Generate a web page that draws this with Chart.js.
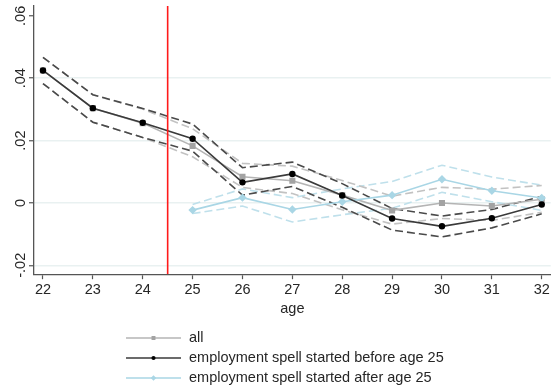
<!DOCTYPE html>
<html><head><meta charset="utf-8">
<script src="https://cdn.jsdelivr.net/npm/chart.js@4/dist/chart.umd.min.js"></script>
<style>html,body{margin:0;padding:0;background:#fff}</style>
</head><body>
<canvas id="c" width="555" height="386" style="width:555px;height:386px;display:block"></canvas>
<script>
// ---- data ----
const ages = [22, 23, 24, 25, 26, 27, 28, 29, 30, 31, 32];
const afterAges = [25, 26, 27, 28, 29, 30, 31, 32];
const yTickValues = [-0.02, 0, 0.02, 0.04, 0.06];
const cutoffAge = 24.5;

const allEst = [0.0425, 0.0304, 0.0256, 0.0183, 0.0084, 0.0071, 0.0025, -0.0024, 0.0000, -0.0010, 0.0012];
const allLo  = [0.0383, 0.0259, 0.0210, 0.0148, 0.0050, 0.0030, -0.0022, -0.0068, -0.0050, -0.0056, -0.0030];
const allHi  = [0.0467, 0.0347, 0.0301, 0.0238, 0.0127, 0.0118, 0.0072, 0.0022, 0.0050, 0.0044, 0.0056];

const beforeEst = [0.0425, 0.0304, 0.0257, 0.0206, 0.0066, 0.0093, 0.0024, -0.0050, -0.0075, -0.0049, -0.0005];
const beforeLo  = [0.0383, 0.0259, 0.0210, 0.0166, 0.0025, 0.0053, -0.0014, -0.0087, -0.0109, -0.0080, -0.0035];
const beforeHi  = [0.0467, 0.0347, 0.0303, 0.0253, 0.0113, 0.0131, 0.0062, -0.0018, -0.0042, -0.0021, 0.0021];

const afterEst = [-0.0023, 0.0017, -0.0021, 0.0004, 0.0025, 0.0076, 0.0039, 0.0016];
const afterLo  = [-0.0034, -0.0010, -0.0061, -0.0038, -0.0017, 0.0034, 0.0004, -0.0024];
const afterHi  = [-0.0005, 0.0045, 0.0017, 0.0045, 0.0069, 0.0121, 0.0083, 0.0057];

const seriesLabels = ['all', 'employment spell started before age 25', 'employment spell started after age 25'];
const axisTitle = 'age';

// ---- styling ----
const FONT = "'Liberation Sans', Arial, Helvetica, sans-serif";
const TXT = '#262626';
const FS = 14.5;
const Y_MIN = -0.02286, Y_MAX = 0.06317;
const X_MIN = 21.82, X_MAX = 32.18;

const pts = (xs, ys) => xs.map((x, i) => ({ x, y: ys[i] }));

function mainLine(label, xs, ys, lineColor, ptColor, style, radius, legendRow) {
  return {
    label, data: pts(xs, ys), borderColor: lineColor, backgroundColor: ptColor,
    pointBackgroundColor: ptColor, pointBorderColor: ptColor, pointBorderWidth: 0,
    pointStyle: style, pointRadius: radius, borderWidth: 1.6, tension: 0, legendRow
  };
}
function ciLine(label, xs, ys, color) {
  return {
    label, data: pts(xs, ys), borderColor: color, borderWidth: 1.6,
    borderDash: [8, 4], pointRadius: 0, tension: 0
  };
}

const datasets = [
  { label: 'cutoff', data: [{ x: cutoffAge, y: Y_MIN }, { x: cutoffAge, y: Y_MAX }],
    borderColor: '#ff1a1a', borderWidth: 1.6, pointRadius: 0 },
  mainLine(seriesLabels[1], ages, beforeEst, '#3a3a3a', '#000000', 'circle', 3.2, 1),
  mainLine(seriesLabels[2], afterAges, afterEst, '#a9d6e5', '#a9d6e5', 'rectRot', 4.2, 2),
  mainLine(seriesLabels[0], ages, allEst, '#b4b4b4', '#a3a3a3', 'rect', 4.3, 0),
  ciLine('before upper', ages, beforeHi, '#4a4a4a'),
  ciLine('before lower', ages, beforeLo, '#4a4a4a'),
  ciLine('all upper', ages, allHi, '#c2c2c2'),
  ciLine('all lower', ages, allLo, '#c2c2c2'),
  ciLine('after upper', afterAges, afterHi, '#bfe0eb'),
  ciLine('after lower', afterAges, afterLo, '#bfe0eb')
];

const legendPlugin = {
  id: 'stataLegend',
  afterDraw(chart) {
    const ctx = chart.ctx;
    const items = chart.data.datasets.filter(d => d.legendRow !== undefined)
      .sort((a, b) => a.legendRow - b.legendRow);
    const x0 = 126, x1 = 181, tx = 189, y0 = 338, dy = 20;
    ctx.save();
    items.forEach((d, i) => {
      const y = y0 + i * dy;
      ctx.beginPath();
      ctx.strokeStyle = d.borderColor;
      ctx.lineWidth = 1.6;
      ctx.setLineDash([]);
      ctx.moveTo(x0, y); ctx.lineTo(x1, y); ctx.stroke();
      ctx.fillStyle = d.pointBackgroundColor;
      ctx.strokeStyle = d.pointBackgroundColor;
      Chart.helpers.drawPoint(ctx, { pointStyle: d.pointStyle, radius: d.pointRadius * 0.65, rotation: 0, borderWidth: 0 }, (x0 + x1) / 2, y);
      ctx.fillStyle = TXT;
      ctx.font = FS + "px " + FONT;
      ctx.textAlign = 'left';
      ctx.textBaseline = 'middle';
      ctx.fillText(d.label, tx, y);
    });
    ctx.restore();
  }
};

const fmtY = v => {
  if (Math.abs(v) < 1e-9) return '0';
  let s = v.toFixed(2);
  return s.replace(/^(-?)0\./, '$1.');
};

new Chart(document.getElementById('c'), {
  type: 'line',
  data: { datasets },
  plugins: [legendPlugin],
  options: {
    responsive: false,
    animation: false,
    devicePixelRatio: 1,
    layout: { padding: { top: 6, right: 2, bottom: 64, left: 0 } },
    plugins: { legend: { display: false }, tooltip: { enabled: false } },
    elements: { line: { fill: false } },
    scales: {
      x: {
        type: 'linear', min: X_MIN, max: X_MAX,
        afterBuildTicks: s => { s.ticks = ages.map(v => ({ value: v })); },
        afterFit: s => { s.paddingLeft = 0; s.paddingRight = 0; },
        grid: { drawOnChartArea: false, drawTicks: true, tickLength: 5, tickColor: '#555', tickWidth: 1.2 },
        border: { color: '#555', width: 1.3 },
        ticks: { color: TXT, font: { family: FONT, size: FS }, padding: 2, maxRotation: 0, autoSkip: false,
                 callback: v => String(v) },
        title: { display: true, text: axisTitle, color: TXT, font: { family: FONT, size: FS }, padding: { top: 0, bottom: 4 } }
      },
      y: {
        type: 'linear', min: Y_MIN, max: Y_MAX,
        afterBuildTicks: s => { s.ticks = yTickValues.map(v => ({ value: v })); },
        afterFit: s => { s.width = 34; s.paddingTop = 0; s.paddingBottom = 0; },
        grid: {
          color: c => (c.tick && Math.abs(c.tick.value - 0.06) < 1e-9) ? 'rgba(0,0,0,0)' : '#e9f1f1',
          lineWidth: 1.5, drawTicks: true, tickLength: 5, tickColor: '#555', tickWidth: 1.2
        },
        border: { color: '#555', width: 1.3 },
        ticks: { color: TXT, font: { family: FONT, size: FS }, padding: -4, minRotation: 90, maxRotation: 90,
                 crossAlign: 'center', autoSkip: false, callback: v => fmtY(v) }
      }
    }
  }
});
</script>
</body></html>
